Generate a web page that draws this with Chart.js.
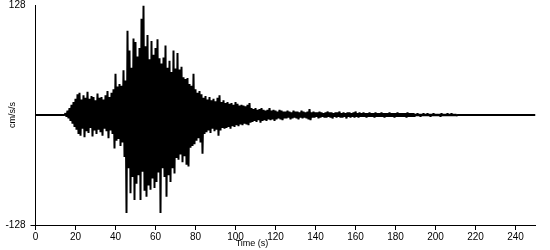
<!DOCTYPE html>
<html>
<head>
<meta charset="utf-8">
<title>Accelerogram</title>
<script src="https://cdn.jsdelivr.net/npm/chart.js@4.4.1/dist/chart.umd.min.js"></script>
<style>
    html, body { margin: 0; padding: 0; background: #fff; }
    canvas { display: block; }
</style>
</head>
<body>
<canvas id="traceChart" width="550" height="250"></canvas>
<script>
// ------------------- Data -------------------
const quietStart = 15;      // s, flat trace before the first arrival
const traceEnd = 250;       // s, end of record
const xTicksStep = 20;
const yTicks = [-128, 128];

// positive / negative peak per second, cm/s/s, from t = 15 s
const mainUp = [
    2, 5, 8, 12, 15, 19, 24, 26, 18, 23,
    20, 27, 19, 22, 21, 17, 25, 20, 21, 18,
    23, 28, 21, 26, 30, 48, 33, 36, 34, 52,
    40, 98, 75, 55, 89, 85, 68, 78, 112, 127,
    80, 93, 65, 86, 70, 78, 88, 66, 60, 67,
    81, 55, 63, 50, 75, 54, 72, 53, 56, 44,
    42, 43, 36, 34, 48, 30, 26, 28, 24, 20,
    22, 18, 21, 17, 19, 16, 20, 23, 15, 17,
    14, 15, 13, 14, 12, 15, 13, 11, 12, 11,
    10, 12, 14, 8, 7, 8, 6, 7, 8, 6,
    5, 6, 8, 5, 6, 5, 4, 6, 5, 4
];
const mainDown = [
    2, 4, 7, 10, 14, 17, 22, 24, 16, 26,
    19, 21, 15, 25, 18, 22, 17, 20, 24, 16,
    19, 27, 18, 22, 39, 30, 28, 36, 32, 49,
    114, 62, 91, 72, 99, 80, 70, 99, 66, 88,
    95, 82, 87, 74, 85, 78, 67, 114, 62, 72,
    95, 70, 78, 62, 68, 50, 52, 46, 55, 48,
    58, 60, 38, 36, 34, 30, 27, 32, 45, 22,
    20, 18, 21, 16, 19, 17, 24, 18, 15, 16,
    15, 14, 16, 13, 14, 12, 13, 11, 12, 10,
    11, 12, 9, 8, 7, 8, 6, 9, 7, 6,
    7, 5, 6, 5, 7, 5, 4, 5, 6, 4
];
// coda, t = 125 .. 210 s
const tailUp = [
    4, 5, 4, 3, 5, 4, 4, 3, 5, 4, 3, 4,
    7,
    3, 4, 3, 3, 4, 3, 2, 3, 4, 3, 3, 2, 3, 3, 4, 2, 3, 2, 3, 3, 2, 3, 4, 2, 3,
    2, 3, 2, 2, 3, 2, 2, 3, 2, 2, 3, 2, 2, 2, 3, 2, 2, 2, 3, 2, 2, 2, 2, 3, 2, 2, 2,
    1, 2, 1, 1, 2, 1, 2, 1, 1, 2, 1, 1, 1, 2, 1, 1, 2, 1, 2, 1, 1
];
const tailDown = [
    4, 3, 5, 4, 3, 4, 5, 3, 4, 3, 4, 5,
    6,
    3, 3, 2, 4, 3, 2, 3, 3, 2, 3, 4, 2, 3, 2, 3, 3, 2, 4, 2, 3, 2, 3, 2, 3, 2,
    2, 2, 3, 2, 2, 2, 3, 2, 2, 2, 2, 3, 2, 2, 2, 2, 3, 2, 2, 2, 2, 2, 3, 2, 2, 2, 2,
    1, 1, 2, 1, 1, 1, 1, 2, 1, 1, 1, 1, 2, 1, 1, 1, 1, 1, 1, 1, 1
];

// ------------------- Build the trace -------------------
const upPeaks = mainUp.concat(tailUp);
const downPeaks = mainDown.concat(tailDown);

const trace = [{ x: 0, y: 0 }, { x: quietStart - 0.5, y: 0 }];
for (let i = 0; i < upPeaks.length; i++) {
    const t = quietStart + i;
    trace.push({ x: t, y: upPeaks[i] });
    trace.push({ x: t + 0.5, y: -downPeaks[i] });
}
trace.push({ x: quietStart + upPeaks.length, y: 0 });
trace.push({ x: traceEnd, y: 0 });

// ------------------- Plot -------------------
const FONT = 'Liberation Sans, Arial, sans-serif';

// x title sits left of the axis centre in the original, so draw it by hand
const xTitlePlugin = {
    id: 'xTitle',
    afterDraw(chart) {
        const ctx = chart.ctx;
        ctx.save();
        ctx.fillStyle = '#000';
        ctx.font = '9px ' + FONT;
        ctx.textAlign = 'center';
        ctx.textBaseline = 'middle';
        ctx.fillText('Time (s)', 252, 244);
        ctx.restore();
    }
};

new Chart(document.getElementById('traceChart').getContext('2d'), {
    type: 'line',
    data: {
        datasets: [{
            data: trace,
            borderColor: '#000',
            borderWidth: 2,
            borderJoinStyle: 'bevel',   // no miter overshoot on the sharp zigzags
            borderCapStyle: 'butt',
            pointRadius: 0,
            tension: 0,
            fill: false
        }]
    },
    options: {
        responsive: false,
        animation: false,
        parsing: false,
        normalized: true,
        layout: { padding: { top: 5, right: 14.5, left: 0, bottom: 0 } },
        plugins: { legend: { display: false }, tooltip: { enabled: false } },
        scales: {
            x: {
                type: 'linear',
                min: 0,
                max: traceEnd,
                afterFit: s => { s.height = 25; s.paddingLeft = 0; s.paddingRight = 0; },
                border: { display: true, color: '#000', width: 1 },
                grid: { drawOnChartArea: false, drawTicks: true, tickLength: 5, color: '#000' },
                ticks: {
                    stepSize: xTicksStep,
                    includeBounds: false,
                    color: '#000',
                    padding: 1,
                    maxRotation: 0,
                    font: { family: FONT, size: 10 }
                }
            },
            y: {
                type: 'linear',
                min: yTicks[0],
                max: yTicks[1],
                // half-pixel offset keeps the 2 px/s samples on pixel centres
                afterFit: s => { s.width = 35.5; s.paddingTop = 0; s.paddingBottom = 0; },
                afterBuildTicks: s => { s.ticks = yTicks.map(v => ({ value: v })); },
                border: { display: true, color: '#000', width: 1 },
                grid: {
                    drawOnChartArea: false,
                    drawTicks: true,
                    tickLength: 5,
                    color: ctx => (ctx.tick && ctx.tick.value === yTicks[0]) ? '#000' : 'rgba(0,0,0,0)'
                },
                ticks: {
                    color: '#000',
                    padding: 5,
                    font: { family: FONT, size: 10 },
                    callback: v => String(v)
                },
                title: {
                    display: true,
                    text: 'cm/s/s',
                    color: '#000',
                    font: { family: FONT, size: 9 },
                    padding: { top: 7, bottom: 0 }
                }
            }
        }
    },
    plugins: [xTitlePlugin]
});
</script>
</body>
</html>
